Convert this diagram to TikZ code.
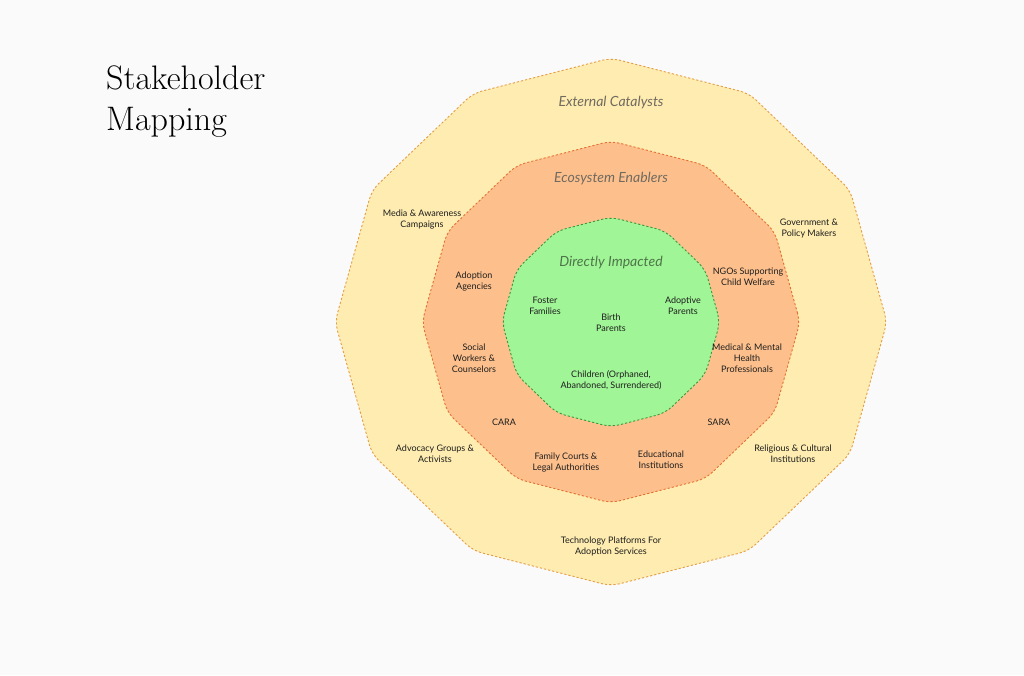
\documentclass[tikz,border=0pt]{standalone}
\usepackage{fontspec}
\newfontfamily\labelfont{Lato}
\definecolor{pagebg}{RGB}{250,250,250}
\definecolor{outerfill}{RGB}{254,236,176}
\definecolor{outerline}{RGB}{228,158,70}
\definecolor{midfill}{RGB}{253,192,140}
\definecolor{midline}{RGB}{228,112,52}
\definecolor{innerfill}{RGB}{160,245,150}
\definecolor{innerline}{RGB}{62,150,62}
\definecolor{labeltext}{RGB}{30,30,30}
\definecolor{ringtitle}{RGB}{112,106,96}
\definecolor{innertitle}{RGB}{78,118,74}
\tikzset{
  ring/.style={line width=0.9pt, dash pattern=on 2.2pt off 2pt, rounded corners=9pt},
  stake/.style={align=center, font=\labelfont\fontsize{9}{11}\selectfont, text=labeltext, inner sep=0pt},
  ringname/.style={font=\labelfont\itshape\fontsize{14}{16}\selectfont, text=ringtitle, inner sep=0pt}
}
\begin{document}
\begin{tikzpicture}[x=1pt,y=1pt]
\useasboundingbox[fill=pagebg] (0,0) rectangle (1024,-675);

% the three rings
\draw[ring, fill=outerfill, draw=outerline] (887,-322)
  \foreach \a in {30,60,...,330} { -- ({611+276*cos(\a)},{-322+264*sin(\a)}) } -- cycle;
\draw[ring, fill=midfill, draw=midline] (800,-322)
  \foreach \a in {30,60,...,330} { -- ({611+189*cos(\a)},{-322+181*sin(\a)}) } -- cycle;
\draw[ring, fill=innerfill, draw=innerline] (720,-322)
  \foreach \a in {30,60,...,330} { -- ({611+109*cos(\a)},{-322+105*sin(\a)}) } -- cycle;

\node[anchor=north west, align=left, inner sep=0pt, font=\fontsize{34}{41}\selectfont] at (106,-66) (title) {Stakeholder\\Mapping};

   \node[ringname] at (611,-103) (ext) {External Catalysts};
   \node[ringname] at (611,-179) (eco) {Ecosystem Enablers};
   \node[ringname, text=innertitle] at (611,-263) (dir) {Directly Impacted};

% outer ring
   \node[stake] at (422,-220) (media) {Media \& Awareness\\Campaigns};
   \node[stake] at (809,-229) (gov) {Government \&\\Policy Makers};
   \node[stake] at (435,-454) (advocacy) {Advocacy Groups \&\\Activists};
   \node[stake] at (793,-454) (religious) {Religious \& Cultural\\Institutions};
   \node[stake] at (611,-546) (tech) {Technology Platforms For\\Adoption Services};

% middle ring
   \node[stake] at (474,-282) (agencies) {Adoption\\Agencies};
   \node[stake] at (748,-277) (ngos) {NGOs Supporting\\Child Welfare};
   \node[stake] at (474,-358) (social) {Social\\Workers \&\\Counselors};
   \node[stake] at (747,-358) (medical) {Medical \& Mental\\Health\\Professionals};
   \node[stake] at (504,-422) (cara) {CARA};
   \node[stake] at (719,-422) (sara) {SARA};
   \node[stake] at (566,-462) (courts) {Family Courts \&\\Legal Authorities};
   \node[stake] at (661,-460) (edu) {Educational\\Institutions};

% inner ring
   \node[stake] at (545,-306) (foster) {Foster\\Families};
   \node[stake] at (683,-306) (adoptive) {Adoptive\\Parents};
   \node[stake] at (611,-323) (birth) {Birth\\Parents};
   \node[stake] at (611,-380) (children) {Children (Orphaned,\\Abandoned, Surrendered)};

\end{tikzpicture}
\end{document}
